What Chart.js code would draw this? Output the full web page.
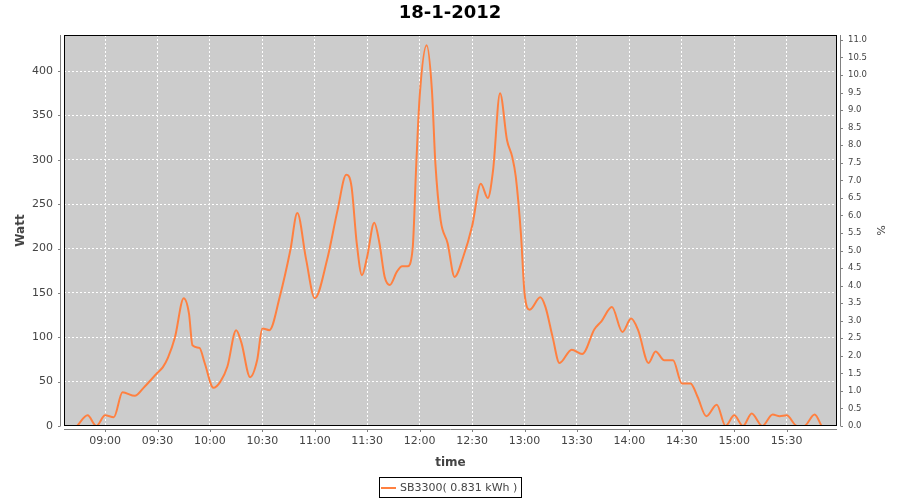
<!DOCTYPE html>
<html lang="en">
<head>
    <meta charset="UTF-8">
    <title>18-1-2012</title>
    <script src="https://cdn.jsdelivr.net/npm/chart.js"></script>
    <style>
        body { margin: 0; background: #fff; }
    </style>
</head>
<body>
    <canvas id="powerChart" width="900" height="500"></canvas>
    <script>
        // readings of the day, time of day and power in Watt
        const times = [
            '08:44', '08:50', '08:55', '09:00', '09:05', '09:10', '09:17', '09:22', '09:30', '09:33',
            '09:36', '09:40', '09:45', '09:48', '09:50', '09:54', '09:57', '10:02', '10:06', '10:10',
            '10:15', '10:18', '10:23', '10:27', '10:30', '10:34', '10:40', '10:46', '10:50', '10:55',
            '11:00', '11:07', '11:13', '11:18', '11:21', '11:24', '11:27', '11:30', '11:34', '11:37',
            '11:40', '11:43', '11:47', '11:50', '11:53', '11:56', '11:58', '12:00', '12:04', '12:07',
            '12:09', '12:12', '12:16', '12:20', '12:25', '12:30', '12:35', '12:39', '12:42', '12:46',
            '12:50', '12:53', '12:55', '12:58', '13:00', '13:03', '13:09', '13:12', '13:16', '13:20',
            '13:27', '13:33', '13:40', '13:44', '13:50', '13:56', '14:01', '14:05', '14:11', '14:15',
            '14:20', '14:25', '14:30', '14:35', '14:39', '14:44', '14:50', '14:55', '15:00', '15:05',
            '15:10', '15:16', '15:22', '15:26', '15:30', '15:36', '15:40', '15:46', '15:50'
        ];
        const watts = [
            0, 12, 0, 12, 10, 38, 34, 43, 60, 66,
            77, 100, 144, 127, 91, 88, 71, 43, 50, 67,
            108, 94, 55, 74, 110, 108, 146, 198, 240, 188,
            144, 187, 243, 283, 270, 206, 170, 191, 229, 206,
            168, 159, 174, 180, 180, 200, 292, 371, 429, 379,
            296, 232, 206, 168, 191, 225, 273, 257, 288, 375,
            322, 303, 281, 215, 150, 131, 145, 134, 101, 71,
            86, 81, 109, 118, 134, 106, 121, 108, 71, 84,
            74, 74, 48, 48, 33, 11, 24, 0, 12, 0,
            14, 0, 13, 11, 12, 0, 0, 13, 0
        ];
        const seriesLabel = 'SB3300( 0.831 kWh )';
        const chartTitle = '18-1-2012';

        const FONT = '"DejaVu Sans", "Liberation Sans", sans-serif';
        const lineColor = 'rgb(255, 128, 64)';

        function toMinutes(hhmm) {
            const [h, m] = hhmm.split(':').map(Number);
            return h * 60 + m;
        }

        function fmtTime(v) {
            const h = Math.floor(v / 60);
            const m = Math.round(v % 60);
            return String(h).padStart(2, '0') + ':' + String(m).padStart(2, '0');
        }

        const points = times.map((t, i) => ({ x: toMinutes(t), y: watts[i] }));

        // plot background, outline, offset axis lines with tick marks and the framed legend
        const plotDecor = {
            id: 'plotDecor',
            beforeDraw(chart) {
                const { ctx, chartArea: a } = chart;
                ctx.save();
                ctx.fillStyle = '#cccccc';
                ctx.fillRect(a.left, a.top, a.right - a.left, a.bottom - a.top);
                ctx.restore();
            },
            afterDraw(chart) {
                const { ctx, chartArea: a, scales } = chart;
                ctx.save();
                ctx.lineWidth = 1;

                ctx.strokeStyle = '#000';
                ctx.strokeRect(a.left + 0.5, a.top + 0.5, a.right - a.left - 1, a.bottom - a.top - 1);

                ctx.strokeStyle = '#808080';
                ctx.beginPath();
                ctx.moveTo(a.left - 3.5, a.top);
                ctx.lineTo(a.left - 3.5, a.bottom);
                ctx.moveTo(a.right + 3.5, a.top);
                ctx.lineTo(a.right + 3.5, a.bottom);
                ctx.moveTo(a.left, a.bottom + 3.5);
                ctx.lineTo(a.right, a.bottom + 3.5);
                scales.y.ticks.forEach(t => {
                    const y = Math.round(scales.y.getPixelForValue(t.value)) + 0.5;
                    ctx.moveTo(a.left - 6, y);
                    ctx.lineTo(a.left - 3.5, y);
                });
                scales.y2.ticks.forEach(t => {
                    const y = Math.round(scales.y2.getPixelForValue(t.value)) + 0.5;
                    ctx.moveTo(a.right + 3.5, y);
                    ctx.lineTo(a.right + 6, y);
                });
                scales.x.ticks.forEach(t => {
                    const x = Math.round(scales.x.getPixelForValue(t.value)) + 0.5;
                    ctx.moveTo(x, a.bottom + 3.5);
                    ctx.lineTo(x, a.bottom + 6);
                });
                ctx.stroke();

                // legend
                const ds = chart.data.datasets[0];
                ctx.font = '11px ' + FONT;
                const tw = ctx.measureText(ds.label).width;
                const boxW = Math.round(2 + 15 + 4 + tw + 4);
                const boxH = 20;
                const boxL = Math.round(chart.width / 2 - boxW / 2);
                const boxT = chart.height - 23;
                ctx.strokeStyle = '#000';
                ctx.strokeRect(boxL + 0.5, boxT + 0.5, boxW, boxH);
                const midY = boxT + boxH / 2 + 1;
                ctx.strokeStyle = ds.borderColor;
                ctx.lineWidth = 2;
                ctx.beginPath();
                ctx.moveTo(boxL + 2, midY);
                ctx.lineTo(boxL + 17, midY);
                ctx.stroke();
                ctx.fillStyle = '#444';
                ctx.textBaseline = 'middle';
                ctx.textAlign = 'left';
                ctx.fillText(ds.label, boxL + 21, midY);
                ctx.restore();
            }
        };

        const tickFont = { family: FONT, size: 11 };
        const axisTitleFont = { family: FONT, size: 12, weight: 'bold' };

        new Chart(document.getElementById('powerChart').getContext('2d'), {
            type: 'line',
            data: {
                datasets: [{
                    label: seriesLabel,
                    data: points,
                    borderColor: lineColor,
                    borderWidth: 2,
                    pointRadius: 0,
                    fill: false,
                    cubicInterpolationMode: 'monotone',
                    yAxisID: 'y'
                }]
            },
            options: {
                responsive: false,
                animation: false,
                devicePixelRatio: 1,
                layout: { padding: { left: 0, right: 0, top: 0, bottom: 30 } },
                plugins: {
                    legend: { display: false },
                    tooltip: { enabled: false },
                    title: {
                        display: true,
                        text: chartTitle,
                        color: '#000',
                        font: { family: FONT, size: 18, weight: 'bold' },
                        padding: { top: 3, bottom: 10.4 }
                    }
                },
                scales: {
                    x: {
                        type: 'linear',
                        min: 516.5,
                        max: 958.8,
                        afterFit(scale) { scale.height = 44; },
                        ticks: {
                            stepSize: 30,
                            includeBounds: false,
                            autoSkip: false,
                            maxRotation: 0,
                            padding: 9,
                            color: '#444',
                            font: tickFont,
                            callback: v => fmtTime(v)
                        },
                        grid: { color: '#fff', lineWidth: 1, drawTicks: false },
                        border: { display: false, dash: [2, 2] },
                        title: { display: true, text: 'time', color: '#444', font: axisTitleFont, padding: { top: 2, bottom: 0 } }
                    },
                    y: {
                        position: 'left',
                        min: 0,
                        max: 440.6,
                        afterFit(scale) { scale.width = 64; },
                        ticks: {
                            stepSize: 50,
                            includeBounds: false,
                            padding: 11,
                            color: '#444',
                            font: tickFont
                        },
                        grid: { color: '#fff', lineWidth: 1, drawTicks: false },
                        border: { display: false, dash: [2, 2] },
                        title: { display: true, text: 'Watt', color: '#444', font: axisTitleFont, padding: { top: 14, bottom: 0 } }
                    },
                    y2: {
                        position: 'right',
                        min: 0,
                        max: 11.14,
                        afterFit(scale) { scale.width = 63; },
                        ticks: {
                            stepSize: 0.5,
                            includeBounds: false,
                            padding: 11,
                            color: '#444',
                            font: { family: FONT, size: 8.5 },
                            callback: v => v.toFixed(1)
                        },
                        grid: { drawOnChartArea: false, drawTicks: false },
                        border: { display: false },
                        title: { display: true, text: '%', color: '#444', font: { family: FONT, size: 11 }, padding: { top: 13.4, bottom: 0 } }
                    }
                }
            },
            plugins: [plotDecor]
        });
    </script>
</body>
</html>
